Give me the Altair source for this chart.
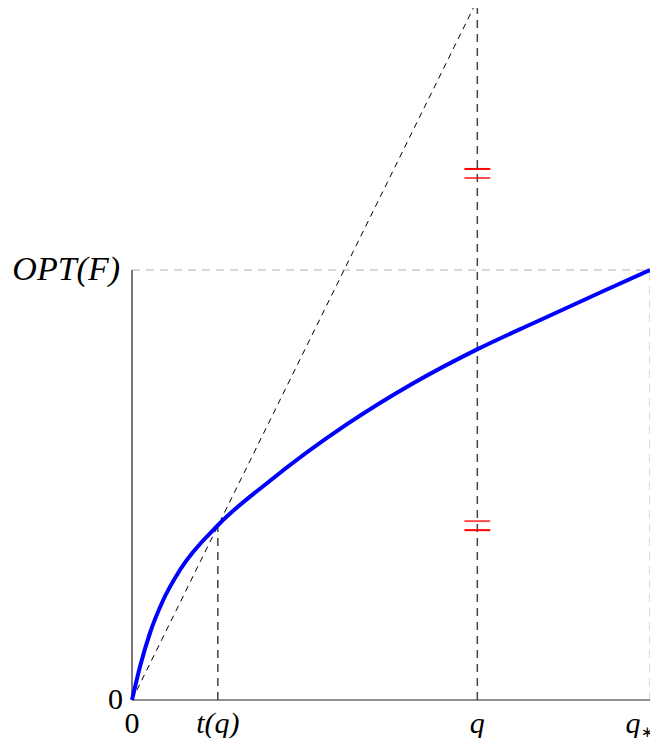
import altair as alt
import pandas as pd

# ---- data (q* = 1, OPT(F) = 1) ----
curve_x = [0.0, 0.0154, 0.0347, 0.0603, 0.0925, 0.1663, 0.2659, 0.4137, 0.5420, 0.6672, 0.7798, 0.9081, 1.0]
curve_y = [0.0, 0.0774, 0.1558, 0.2326, 0.3023, 0.4070, 0.5093, 0.6402, 0.7360, 0.8160, 0.8791, 0.9500, 1.0]

q_val = 2 / 3
t_q = 0.1657
t_q_curve = 0.407
q_star = 1.0
opt_val = 1.0
diag_top = 1.628          # height the chord reaches at x = q
y_top = 1.6093            # top of the drawing
tick_half = 0.025
red_ticks = [1.235, 1.214, 0.416, 0.395]
red_opac = [1.0, 0.7, 0.7, 1.0]

x_upright_labels = ["0"]
x_upright_pos = [0.0]
x_italic_labels = ["t(q)", "q"]
x_italic_pos = [t_q, q_val]
y_upright_labels = ["0"]
y_upright_pos = [0.0]
y_italic_labels = ["OPT(F)"]
y_italic_pos = [opt_val]

W, H = 518, 692
xs = alt.Scale(domain=[0, 1], nice=False, zero=False)
ys = alt.Scale(domain=[0, y_top], nice=False, zero=False)
FONT = "Liberation Serif"
FS = 30
LY = H + 24


def X(f="x"):
    return alt.X(f + ":Q", scale=xs, axis=None)


def Y(f="y"):
    return alt.Y(f + ":Q", scale=ys, axis=None)


curve = pd.DataFrame({"x": curve_x, "y": curve_y})
blue = alt.Chart(curve).mark_line(color="#0000ff", strokeWidth=4, interpolate="monotone").encode(
    x=X(), y=Y())

diag = alt.Chart(pd.DataFrame({"x": [0.0], "y": [0.0], "x2": [q_val], "y2": [diag_top]})).mark_rule(
    color="black", strokeWidth=1, strokeDash=[6, 5], clip=True).encode(
    x=X(), y=Y(), x2="x2:Q", y2="y2:Q")

dark_v = alt.Chart(pd.DataFrame({"x": [t_q, q_val], "y": [0.0, 0.0], "y2": [t_q_curve, y_top]})).mark_rule(
    color="#444444", strokeWidth=1.5, strokeDash=[8, 6]).encode(
    x=X(), y=Y(), y2="y2:Q")

gray = alt.Chart(pd.DataFrame({"x": [0.0, q_star], "x2": [q_star, q_star],
                               "y": [opt_val, 0.0], "y2": [opt_val, opt_val]})).mark_rule(
    color="#cccccc", strokeWidth=1.5, strokeDash=[8, 6]).encode(
    x=X(), x2="x2:Q", y=Y(), y2="y2:Q")

axes = alt.Chart(pd.DataFrame({"x": [0.0, 0.0], "x2": [0.0, q_star],
                               "y": [0.0, 0.0], "y2": [opt_val, 0.0]})).mark_rule(
    color="#222222", strokeWidth=1.2).encode(
    x=X(), x2="x2:Q", y=Y(), y2="y2:Q")

ticks_df = pd.DataFrame({"y": red_ticks, "o": red_opac,
                         "x": [q_val - tick_half] * 4, "x2": [q_val + tick_half] * 4})
ticks = alt.Chart(ticks_df).mark_rule(color="#ff0000", strokeWidth=2).encode(
    x=X(), x2="x2:Q", y=Y(), y2="y:Q",
    opacity=alt.Opacity("o:Q", scale=None, legend=None))


def xtext(labels, pos, style):
    return alt.Chart(pd.DataFrame({"x": pos, "t": labels})).mark_text(
        font=FONT, fontSize=FS, fontStyle=style, baseline="middle", align="center", color="black").encode(
        x=X(), y=alt.value(LY), text="t:N")


def ytext(labels, pos, style, dx, fs):
    return alt.Chart(pd.DataFrame({"y": pos, "t": labels})).mark_text(
        font=FONT, fontSize=fs, fontStyle=style, baseline="middle", align="right", color="black",
        dx=dx).encode(
        x=alt.value(0), y=Y(), text="t:N")


xlab1 = xtext(x_upright_labels, x_upright_pos, "normal")
xlab2 = xtext(x_italic_labels, x_italic_pos, "italic")
ylab1 = ytext(y_upright_labels, y_upright_pos, "normal", -9, FS)
ylab2 = ytext(y_italic_labels, y_italic_pos, "italic", -12, 34)

qs = alt.Chart(pd.DataFrame({"x": [q_star], "t": ["q"]})).mark_text(
    font=FONT, fontSize=FS, fontStyle="italic", baseline="middle", align="center", color="black", dx=-17).encode(
    x=X(), y=alt.value(LY), text="t:N")
qs_sub = alt.Chart(pd.DataFrame({"x": [q_star], "t": ["∗"]})).mark_text(
    font=FONT, fontSize=15, baseline="middle", align="left", color="black", dx=-9, dy=8).encode(
    x=X(), y=alt.value(LY), text="t:N")

chart = alt.layer(gray, axes, diag, dark_v, ticks, blue, xlab1, xlab2, qs, qs_sub, ylab1, ylab2).properties(
    width=W, height=H,
    autosize=alt.AutoSizeParams(type="none"),
    padding={"left": 124, "top": 0, "right": 0, "bottom": 38},
).configure_view(stroke=None)

chart.save("out.html", embed_options={"renderer": "svg", "actions": False})
